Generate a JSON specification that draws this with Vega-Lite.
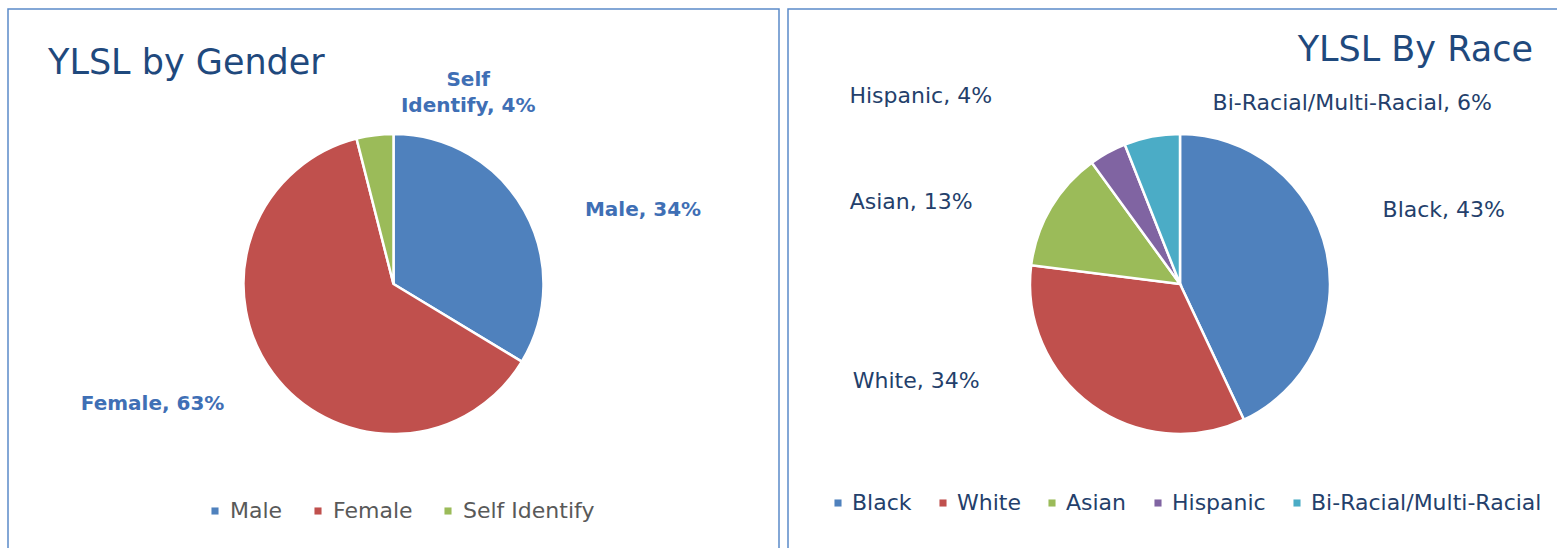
{
  "$schema": "https://vega.github.io/schema/vega-lite/v6.json",
  "padding": {"left": 7, "top": 8, "right": 0, "bottom": 0},
  "background": "white",
  "spacing": 7,
  "config": {
    "view": {"stroke": "#5B8BC9", "strokeWidth": 1.5},
    "font": "DejaVu Sans",
    "title": {"font": "DejaVu Sans", "fontSize": 35, "fontWeight": "normal", "color": "#1F497D", "baseline": "alphabetic", "frame": "group"}
  },
  "resolve": {"scale": {"color": "independent", "theta": "independent"}, "legend": {"color": "independent"}},
  "hconcat": [
    {
      "width": 771,
      "height": 550,
      "view": {"stroke": "#5B8BC9", "strokeWidth": 1.5},
      "title": {"text": "YLSL by Gender", "anchor": "start", "dx": 40, "offset": -72},
      "data": {"values": [
        {"gender": "Male", "pct": 34, "rank": 1, "label": "Male, 34%"},
        {"gender": "Female", "pct": 63, "rank": 2, "label": "Female, 63%"},
        {"gender": "Self Identify", "pct": 4, "rank": 3, "label": "Self\nIdentify, 4%"}
      ]},
      "layer": [
        {
          "mark": {"type": "arc", "outerRadius": 150, "stroke": "white", "strokeWidth": 2.5},
          "encoding": {
            "theta": {"field": "pct", "type": "quantitative", "stack": true},
            "order": {"field": "rank", "type": "quantitative"},
            "color": {"field": "gender", "type": "nominal",
              "scale": {"domain": ["Male", "Female", "Self Identify"], "range": ["#4F81BD", "#C0504D", "#9BBB59"]},
              "legend": {"orient": "none", "legendX": 196, "legendY": 491, "direction": "horizontal", "title": null,
                "symbolType": "square", "symbolSize": 50, "symbolStrokeWidth": 0, "labelFontSize": 22, "labelColor": "#595959",
                "labelFont": "DejaVu Sans", "columnPadding": 24, "labelOffset": 4, "labelLimit": 0}
            }
          }
        },
        {
          "transform": [{"stack": "pct", "groupby": [], "sort": [{"field": "rank"}], "as": ["t0", "t1"]}, {"calculate": "(datum.t0 + datum.t1) / 2", "as": "mid"}, {"filter": "datum.gender === 'Male'"}],
          "mark": {"type": "text", "radius": 260, "dx": 23, "dy": 54, "fontSize": 20, "fontWeight": "bold", "color": "#3F6FB5", "lineBreak": "\n"},
          "encoding": {"theta": {"field": "mid", "type": "quantitative"}, "text": {"field": "label"}}
        },
        {
          "transform": [{"stack": "pct", "groupby": [], "sort": [{"field": "rank"}], "as": ["t0", "t1"]}, {"calculate": "(datum.t0 + datum.t1) / 2", "as": "mid"}, {"filter": "datum.gender === 'Female'"}],
          "mark": {"type": "text", "radius": 260, "dx": -32, "dy": -35, "fontSize": 20, "fontWeight": "bold", "color": "#3F6FB5", "lineBreak": "\n"},
          "encoding": {"theta": {"field": "mid", "type": "quantitative"}, "text": {"field": "label"}}
        },
        {
          "transform": [{"stack": "pct", "groupby": [], "sort": [{"field": "rank"}], "as": ["t0", "t1"]}, {"calculate": "(datum.t0 + datum.t1) / 2", "as": "mid"}, {"filter": "datum.gender === 'Self Identify'"}],
          "mark": {"type": "text", "radius": 260, "dx": 107, "dy": 54, "fontSize": 20, "fontWeight": "bold", "color": "#3F6FB5", "lineBreak": "\n", "lineHeight": 26},
          "encoding": {"theta": {"field": "mid", "type": "quantitative"}, "text": {"field": "label"}}
        }
      ]
    },
    {
      "width": 784,
      "height": 550,
      "view": {"stroke": "#5B8BC9", "strokeWidth": 1.5},
      "title": {"text": "YLSL By Race", "anchor": "end", "dx": -39, "offset": -59},
      "data": {"values": [
        {"race": "Black", "pct": 43, "rank": 1, "label": "Black, 43%"},
        {"race": "White", "pct": 34, "rank": 2, "label": "White, 34%"},
        {"race": "Asian", "pct": 13, "rank": 3, "label": "Asian, 13%"},
        {"race": "Hispanic", "pct": 4, "rank": 4, "label": "Hispanic, 4%"},
        {"race": "Bi-Racial/Multi-Racial", "pct": 6, "rank": 5, "label": "Bi-Racial/Multi-Racial, 6%"}
      ]},
      "layer": [
        {
          "mark": {"type": "arc", "outerRadius": 150, "stroke": "white", "strokeWidth": 2.5},
          "encoding": {
            "theta": {"field": "pct", "type": "quantitative", "stack": true},
            "order": {"field": "rank", "type": "quantitative"},
            "color": {"field": "race", "type": "nominal",
              "scale": {"domain": ["Black", "White", "Asian", "Hispanic", "Bi-Racial/Multi-Racial"], "range": ["#4F81BD", "#C0504D", "#9BBB59", "#8064A2", "#4BACC6"]},
              "legend": {"orient": "none", "legendX": 39, "legendY": 483, "direction": "horizontal", "title": null,
                "symbolType": "square", "symbolSize": 50, "symbolStrokeWidth": 0, "labelFontSize": 22, "labelColor": "#243F6B",
                "labelFont": "DejaVu Sans", "columnPadding": 20, "labelOffset": 3, "labelLimit": 0}
            }
          }
        },
        {
          "transform": [{"stack": "pct", "groupby": [], "sort": [{"field": "rank"}], "as": ["t0", "t1"]}, {"calculate": "(datum.t0 + datum.t1) / 2", "as": "mid"}, {"filter": "datum.race === 'Black'"}],
          "mark": {"type": "text", "radius": 260, "dx": 10, "dy": -17, "fontSize": 22, "color": "#243F6B"},
          "encoding": {"theta": {"field": "mid", "type": "quantitative"}, "text": {"field": "label"}}
        },
        {
          "transform": [{"stack": "pct", "groupby": [], "sort": [{"field": "rank"}], "as": ["t0", "t1"]}, {"calculate": "(datum.t0 + datum.t1) / 2", "as": "mid"}, {"filter": "datum.race === 'White'"}],
          "mark": {"type": "text", "radius": 260, "dx": -111, "dy": -113, "fontSize": 22, "color": "#243F6B"},
          "encoding": {"theta": {"field": "mid", "type": "quantitative"}, "text": {"field": "label"}}
        },
        {
          "transform": [{"stack": "pct", "groupby": [], "sort": [{"field": "rank"}], "as": ["t0", "t1"]}, {"calculate": "(datum.t0 + datum.t1) / 2", "as": "mid"}, {"filter": "datum.race === 'Asian'"}],
          "mark": {"type": "text", "radius": 260, "dx": -45, "dy": 50, "fontSize": 22, "color": "#243F6B"},
          "encoding": {"theta": {"field": "mid", "type": "quantitative"}, "text": {"field": "label"}}
        },
        {
          "transform": [{"stack": "pct", "groupby": [], "sort": [{"field": "rank"}], "as": ["t0", "t1"]}, {"calculate": "(datum.t0 + datum.t1) / 2", "as": "mid"}, {"filter": "datum.race === 'Hispanic'"}],
          "mark": {"type": "text", "radius": 260, "dx": -134, "dy": 40, "fontSize": 22, "color": "#243F6B"},
          "encoding": {"theta": {"field": "mid", "type": "quantitative"}, "text": {"field": "label"}}
        },
        {
          "transform": [{"stack": "pct", "groupby": [], "sort": [{"field": "rank"}], "as": ["t0", "t1"]}, {"calculate": "(datum.t0 + datum.t1) / 2", "as": "mid"}, {"filter": "datum.race === 'Bi-Racial/Multi-Racial'"}],
          "mark": {"type": "text", "radius": 260, "dx": 221, "dy": 74, "fontSize": 22, "color": "#243F6B"},
          "encoding": {"theta": {"field": "mid", "type": "quantitative"}, "text": {"field": "label"}}
        }
      ]
    }
  ]
}
